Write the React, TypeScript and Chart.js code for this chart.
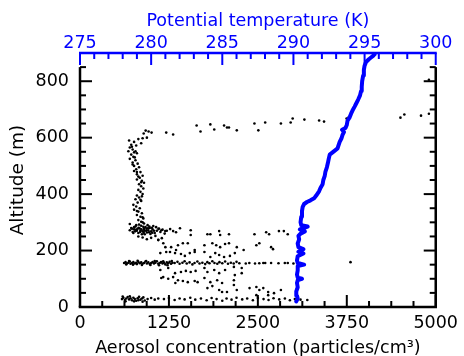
import React, { useEffect, useRef } from "react";
import { Chart, registerables } from "chart.js";
Chart.register(...registerables);

// ---- axis ticks ----
const concTicks = [0, 1250, 2500, 3750, 5000];
const tempTicks = [275, 280, 285, 290, 295, 300];
const altTicks = [0, 200, 400, 600, 800];

// ---- aerosol concentration (particles/cm3) vs altitude (m): [conc, alt] ----
const upperLayer: [number, number][] = [
  [895, 615], [923, 625], [964, 622], [1006, 618], [1212, 618], [1309, 611], [1639, 643], [1694, 622],
  [1832, 647], [1887, 629], [2025, 643], [2066, 636], [2094, 636], [2204, 626], [2452, 650], [2507, 626],
  [2603, 654], [2824, 650], [2961, 654], [2989, 668], [3154, 664], [3361, 661], [3430, 657], [3747, 668],
  [3774, 671], [4504, 671], [4559, 682], [4793, 678], [4904, 685], [4904, 805],
];
const column: [number, number][] = [
  [690, 590], [760, 585], [820, 595], [880, 598], [940, 600], [860, 580], [720, 575], [790, 572],
  [700, 565], [740, 558], [680, 552], [760, 548], [720, 540], [800, 545], [750, 532], [700, 525],
  [780, 520], [740, 512], [810, 508], [760, 500], [830, 495], [790, 488], [760, 482], [850, 478],
  [800, 470], [880, 465], [840, 458], [800, 452], [870, 447], [900, 440], [830, 435], [860, 428],
  [890, 420], [820, 415], [850, 408], [880, 400], [800, 395], [830, 388], [780, 382], [860, 376],
  [810, 370], [750, 362], [790, 356], [840, 350], [760, 345], [820, 338], [870, 332], [800, 326],
  [850, 320], [890, 314], [820, 308], [860, 302], [900, 296], [770, 530], [820, 462], [870, 392],
  [730, 568], [780, 552], [740, 505], [800, 478], [860, 442], [850, 380], [800, 340], [880, 318],
];
const layer270: [number, number][] = [
  [700, 272], [720, 280], [740, 266], [760, 275], [780, 285], [800, 270], [820, 262], [840, 278],
  [860, 288], [880, 268], [900, 276], [920, 283], [940, 264], [960, 272], [980, 280], [1000, 268],
  [1020, 275], [1050, 262], [1080, 270], [1110, 278], [750, 262], [790, 290], [830, 292], [870, 258],
  [910, 258], [950, 290], [990, 259], [1030, 287], [1070, 283], [1130, 266], [1160, 274], [1190, 260],
  [1220, 270], [760, 283], [810, 277], [850, 271], [890, 284], [930, 270], [970, 265], [1010, 281],
  [820, 250], [880, 246], [940, 240], [1000, 245], [1060, 252], [1100, 238], [1150, 244], [700, 294],
  [880, 300], [730, 277], [775, 268], [845, 266], [905, 270], [955, 279], [1040, 270],
  [790, 274], [825, 281], [865, 275], [895, 263], [935, 277], [975, 285], [1015, 263],
];
const layer160: [number, number][] = [
  [620, 156], [640, 159], [660, 154], [680, 157], [700, 161], [710, 153], [730, 156], [750, 159],
  [770, 154], [790, 157], [800, 152], [820, 160], [840, 155], [860, 158], [880, 153], [900, 156],
  [920, 161], [940, 154], [960, 158], [980, 152], [1000, 156], [1020, 159], [1040, 154], [1060, 157],
  [1080, 162], [1100, 153], [1120, 156], [1140, 159], [1160, 154], [1180, 157], [1200, 151], [1220, 158],
  [1240, 155], [1260, 160], [1280, 153], [1300, 157], [650, 151], [690, 163], [745, 150], [810, 164],
  [870, 149], [930, 163], [990, 149], [1050, 163], [1110, 148], [1170, 162], [1230, 148], [1290, 163],
  [1330, 156], [1370, 160], [1400, 153], [1440, 157], [1470, 162], [1500, 154], [1540, 158], [1580, 151],
  [1610, 156], [1650, 161], [1680, 154], [1720, 157], [1760, 152], [1790, 159], [1820, 155], [1860, 162],
  [1890, 156], [1930, 153], [1960, 159], [2000, 155], [2040, 161], [2080, 153], [2120, 157], [2160, 154],
  [2200, 160], [2240, 155], [2330, 154], [2380, 156], [2460, 154], [2520, 155], [2576, 156], [2603, 156],
  [2686, 156], [2790, 155], [2879, 156], [2920, 156], [3000, 154], [3802, 159],
];
const layer30: [number, number][] = [
  [590, 28], [610, 33], [630, 25], [650, 30], [670, 35], [690, 27], [710, 31], [730, 24],
  [750, 33], [770, 28], [790, 22], [810, 31], [830, 36], [850, 26], [870, 30], [890, 34],
  [910, 23], [640, 20], [700, 38], [760, 20], [820, 24], [880, 19], [600, 37], [950, 28],
  [1000, 32], [1050, 26], [1100, 30], [1180, 28], [1250, 32], [1330, 25], [1400, 30], [1470, 27],
  [1550, 33], [1620, 26], [1700, 30], [1780, 24], [1850, 32], [1920, 28], [2000, 22], [2060, 30],
  [2130, 26], [2200, 33], [2280, 27], [2350, 30], [2430, 24], [2500, 32], [2580, 28], [2650, 25],
  [2720, 31], [2800, 27], [2880, 30], [2950, 24], [3020, 28], [3100, 26], [3195, 25],
];
const scatterMid: [number, number][] = [
  [1102, 276], [1143, 272], [1198, 269], [1267, 276], [1309, 269], [1350, 265], [1405, 279], [1556, 272],
  [1556, 255], [1791, 258], [1832, 258], [1956, 269], [1970, 255], [2094, 258], [2452, 258], [2617, 265],
  [2658, 258], [2796, 269], [2865, 269], [2920, 258],
  [1171, 226], [1281, 212], [1377, 219], [1446, 226], [1515, 226], [1612, 202], [1749, 219], [1860, 226],
  [1915, 219], [1970, 212], [2039, 223], [2094, 226], [2204, 212], [2300, 202], [2479, 219], [2521, 226],
  [2686, 212], [2713, 205],
  [1129, 191], [1212, 195], [1336, 191], [1419, 188], [1474, 181], [1543, 191], [1612, 195], [1749, 195],
  [1832, 177], [1901, 191], [1956, 184], [2025, 177], [2107, 181], [2176, 191],
  [1129, 131], [1240, 138], [1336, 120], [1419, 124], [1488, 128], [1556, 124], [1625, 128], [1749, 138],
  [1791, 124], [1887, 131], [1956, 120], [2039, 131], [2163, 142], [2273, 138], [2273, 120],
  [1143, 103], [1309, 106], [1377, 95], [1446, 92], [1515, 88], [1612, 92], [1653, 88], [1749, 103],
  [1832, 88], [1928, 95], [1997, 85], [2163, 95], [2176, 113],
  [1791, 67], [1860, 74], [1956, 60], [1997, 53], [2066, 53], [2163, 78], [2204, 60], [2383, 67],
  [2479, 71], [2576, 67], [2645, 53], [2727, 49], [2824, 60], [2521, 60], [2479, 42], [2645, 42],
  [1100, 237], [1200, 212], [1265, 195], [1350, 202], [1170, 106], [1240, 100], [1340, 85],
];

// ---- potential temperature (K) vs altitude (m) ----
const thetaK = [
  290.2, 290.3, 290.25, 290.2, 290.3, 290.25, 290.3, 290.6, 290.3, 290.25, 290.3, 290.3, 290.75, 290.3,
  290.25, 290.3, 290.7, 290.35, 290.7, 290.35, 290.3, 290.4, 290.35, 290.5, 290.8, 290.45, 291.0, 290.55,
  290.5, 290.55, 290.6, 290.65, 290.75, 290.95, 291.2, 291.45, 291.6, 291.8, 291.9, 292.05, 292.1, 292.2,
  292.25, 292.35, 292.42, 292.48, 292.55, 292.75, 292.95, 293.1, 293.15, 293.25, 293.38, 293.45, 293.55,
  293.42, 293.65, 293.75, 293.8, 293.95, 294.05, 294.15, 294.3, 294.42, 294.55, 294.68, 294.75, 294.8,
  294.83, 294.9, 294.95, 295.0, 295.1, 295.3, 295.45, 295.6, 295.7,
];
const thetaAlt = [
  20, 30, 40, 55, 70, 85, 95, 100, 104, 115, 130, 145, 150, 156,
  165, 180, 190, 196, 205, 212, 225, 240, 252, 260, 268, 275, 285, 290,
  300, 320, 340, 355, 365, 372, 378, 385, 395, 410, 422, 435, 450, 465,
  480, 495, 510, 525, 540, 548, 556, 562, 570, 585, 598, 610, 620,
  628, 634, 645, 660, 672, 685, 696, 710, 722, 735, 750, 765, 780,
  800, 820, 840, 855, 868, 878, 884, 890, 895,
];

const FONT = "'DejaVu Sans', 'Liberation Sans', Arial, sans-serif";
const BLUE = "#0000ff";

const axesPlugin = {
  id: "customAxes",
  afterDraw(chart: any) {
    const { ctx, chartArea: a, scales } = chart;
    const x = scales.x, x2 = scales.x2, y = scales.y;
    const line = (x1: number, y1: number, x3: number, y3: number) => {
      ctx.beginPath();
      ctx.moveTo(x1, y1);
      ctx.lineTo(x3, y3);
      ctx.stroke();
    };
    ctx.save();
    ctx.lineCap = "butt";
    ctx.strokeStyle = "#000";
    ctx.lineWidth = 2.5;
    const yTop = y.getPixelForValue(850);
    line(a.left - 1.25, a.bottom, a.right + 1.25, a.bottom);
    line(a.left, a.bottom, a.left, yTop);
    line(a.right, a.bottom, a.right, yTop);
    ctx.lineWidth = 2;
    const cMinor = (concTicks[1] - concTicks[0]) / 4;
    for (let v = concTicks[0]; v <= concTicks[concTicks.length - 1] + 1e-6; v += cMinor) {
      const px = x.getPixelForValue(v);
      const len = concTicks.includes(v) ? 12 : 6;
      line(px, a.bottom, px, a.bottom - len);
    }
    const aMinor = (altTicks[1] - altTicks[0]) / 4;
    for (let v = 0; v <= 850 + 1e-6; v += aMinor) {
      const py = y.getPixelForValue(v);
      const len = altTicks.includes(v) ? 12 : 6;
      line(a.left, py, a.left + len, py);
      line(a.right, py, a.right - len, py);
    }
    ctx.strokeStyle = BLUE;
    ctx.lineWidth = 2.5;
    line(a.left - 1, a.top, a.right + 1, a.top);
    ctx.lineWidth = 2;
    const tMinor = (tempTicks[1] - tempTicks[0]) / 5;
    for (let v = tempTicks[0]; v <= tempTicks[tempTicks.length - 1] + 1e-6; v += tMinor) {
      const px = x2.getPixelForValue(v);
      const len = tempTicks.includes(Math.round(v * 1000) / 1000) ? 12 : 6;
      line(px, a.top, px, a.top + len);
    }
    ctx.restore();
  },
};

export default function App() {
  const ref = useRef<HTMLCanvasElement | null>(null);
  useEffect(() => {
    if (!ref.current) return;
    const toPts = (arr: [number, number][]) => arr.map(([c, h]) => ({ x: c, y: h }));
    const blackPts = [
      ...toPts(upperLayer), ...toPts(column), ...toPts(layer270),
      ...toPts(layer160), ...toPts(layer30), ...toPts(scatterMid),
    ];
    const thetaPts = thetaK.map((t, i) => ({ x: t, y: thetaAlt[i] }));
    const chart = new Chart(ref.current, {
      type: "scatter",
      data: {
        datasets: [
          {
            data: thetaPts,
            xAxisID: "x2",
            yAxisID: "y",
            showLine: true,
            borderColor: BLUE,
            backgroundColor: BLUE,
            borderWidth: 4,
            borderJoinStyle: "round",
            borderCapStyle: "round",
            pointRadius: 0,
            tension: 0,
            order: 0,
          } as any,
          {
            data: blackPts,
            xAxisID: "x",
            yAxisID: "y",
            backgroundColor: "#000",
            borderWidth: 0,
            pointRadius: 1.3,
            order: 1,
          },
        ],
      },
      options: {
        responsive: false,
        animation: false,
        events: [],
        layout: { padding: { left: 0, right: 21, top: 0, bottom: 0 } },
        plugins: { legend: { display: false }, tooltip: { enabled: false } },
        scales: {
          x: {
            type: "linear",
            position: "bottom",
            min: concTicks[0],
            max: concTicks[concTicks.length - 1],
            afterBuildTicks: (s: any) => { s.ticks = concTicks.map((v) => ({ value: v })); },
            afterFit: (s: any) => { s.height = 49; },
            ticks: { color: "#000", font: { family: FONT, size: 17.5 }, padding: 6, maxRotation: 0, autoSkip: false, callback: (v: any) => String(v) },
            grid: { display: false, drawTicks: false },
            border: { display: false },
            title: { display: true, text: "Aerosol concentration (particles/cm³)", color: "#000", font: { family: FONT, size: 17.5 }, padding: { top: 0, bottom: -2.5 } },
          },
          x2: {
            type: "linear",
            position: "top",
            min: tempTicks[0],
            max: tempTicks[tempTicks.length - 1],
            afterBuildTicks: (s: any) => { s.ticks = tempTicks.map((v) => ({ value: v })); },
            afterFit: (s: any) => { s.height = 53; },
            ticks: { color: BLUE, font: { family: FONT, size: 17.5 }, padding: -1, maxRotation: 0, autoSkip: false, callback: (v: any) => String(v) },
            grid: { display: false, drawTicks: false },
            border: { display: false },
            title: { display: true, text: "Potential temperature (K)", color: BLUE, font: { family: FONT, size: 17.5 }, padding: { top: 11, bottom: 0 } },
          },
          y: {
            type: "linear",
            position: "left",
            min: 0,
            max: 900,
            afterBuildTicks: (s: any) => { s.ticks = altTicks.map((v) => ({ value: v })); },
            afterFit: (s: any) => { s.width = 80; },
            ticks: { color: "#000", font: { family: FONT, size: 17.5 }, padding: 11, autoSkip: false, callback: (v: any) => String(v) },
            grid: { display: false, drawTicks: false },
            border: { display: false },
            title: { display: true, text: "Altitude (m)", color: "#000", font: { family: FONT, size: 18.5 }, padding: { top: 7, bottom: 0 } },
          },
        },
      },
      plugins: [axesPlugin],
    });
    return () => chart.destroy();
  }, []);
  return (
    <div style={{ position: "absolute", left: 0, top: 0, width: 464, height: 356 }}>
      <canvas ref={ref} width={464} height={356} style={{ display: "block" }} />
    </div>
  );
}
